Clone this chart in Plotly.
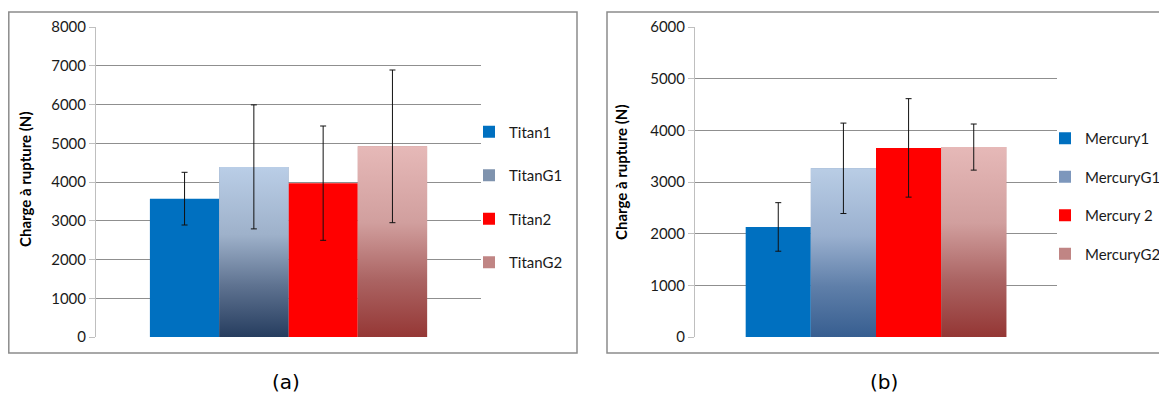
import plotly.graph_objects as go

# ---------------- data ----------------
titan_names = ["Titan1", "TitanG1", "Titan2", "TitanG2"]
titan_values = [3570, 4390, 3970, 4920]
titan_errors = [680, 1600, 1475, 1970]

mercury_names = ["Mercury1", "MercuryG1", "Mercury 2", "MercuryG2"]
mercury_values = [2130, 3265, 3660, 3676]
mercury_errors = [470, 875, 953, 446]

y_title = "Charge à rupture (N)"
captions = ["(a)", "(b)"]
titan_yrange = [0, 8000]
mercury_yrange = [0, 6000]

# ---------------- styles ----------------
# the page body has an 8px default margin, so the figure is drawn 8px smaller
# and all screen positions are shifted by that offset
OFF = 8
W, H = 1167 - OFF, 396 - OFF
FONT = "Lato"
BARGAP = 0.28
BW = (1 - BARGAP) / 4

# style per series: solid colour or gradient (bottom -> top)
titan_styles = [
    {"solid": "#0070C0"},
    {"grad": [[0, "#263D5F"], [0.3, "#5E7290"], [0.6, "#9EB1CA"], [1, "#BACEE7"]], "icon": "#7F93AE"},
    {"solid": "#FF0000"},
    {"grad": [[0, "#953735"], [0.3, "#AB6463"], [0.6, "#D19F9E"], [1, "#E6B9B8"]], "icon": "#C08584"},
]
mercury_styles = [
    {"solid": "#0070C0"},
    {"grad": [[0, "#375E90"], [0.3, "#5F7FA9"], [0.6, "#9AB0CF"], [1, "#B9CDE5"]], "icon": "#7D97BC"},
    {"solid": "#FF0000"},
    {"grad": [[0, "#943634"], [0.3, "#AB6463"], [0.6, "#D19F9E"], [1, "#E6B9B8"]], "icon": "#C08584"},
]


def px_x(p):
    return (p - OFF) / W


def px_y(p):
    return (H - (p - OFF)) / H


fig = go.Figure()


def add_panel(names, values, errors, styles, xa, ya, legend):
    for i, (n, v, e, st) in enumerate(zip(names, values, errors, styles)):
        pos = (i - 1.5) * BW
        err = dict(type="data", array=[e], color="#111111", thickness=1, width=3)
        if "solid" in st:
            fig.add_trace(go.Bar(
                x=[pos], y=[v], width=BW, name=n, xaxis=xa, yaxis=ya, legend=legend,
                legendgroup=n, marker=dict(color=st["solid"], line=dict(width=0)),
                error_y=err,
            ))
        else:
            fig.add_trace(go.Bar(
                x=[pos], y=[v], width=BW, name=n, xaxis=xa, yaxis=ya, legend=legend,
                legendgroup=n, marker=dict(color=st["icon"], line=dict(width=0)),
            ))
            x0, x1 = pos - BW / 2, pos + BW / 2
            fig.add_trace(go.Scatter(
                x=[x0, x1, x1, x0, x0], y=[0, 0, v, v, 0], mode="lines",
                fill="toself", line=dict(width=0), xaxis=xa, yaxis=ya,
                fillgradient=dict(type="vertical", colorscale=st["grad"]),
                showlegend=False, hoverinfo="skip", legendgroup=n,
            ))
            fig.add_trace(go.Scatter(
                x=[pos], y=[v], mode="markers", marker=dict(size=1, color="rgba(0,0,0,0)"),
                error_y=err, xaxis=xa, yaxis=ya, showlegend=False, legendgroup=n,
            ))


add_panel(titan_names, titan_values, titan_errors, titan_styles, "x", "y", "legend")
add_panel(mercury_names, mercury_values, mercury_errors, mercury_styles, "x2", "y2", "legend2")

axis_common_y = dict(
    showgrid=True, gridcolor="#8F8F8F", gridwidth=1, zeroline=False,
    showline=True, linecolor="#BFBFBF", linewidth=1, automargin=False,
    ticks="outside", ticklen=6, tickcolor="#BFBFBF", dtick=1000,
    tickfont=dict(family=FONT, size=15, color="#1A1A1A"),
)
axis_common_x = dict(
    range=[-0.5, 0.5], showgrid=False, zeroline=False, showticklabels=False,
    showline=False, ticks="", automargin=False,
)

yd = [px_y(337), px_y(27)]
fig.update_layout(
    width=W, height=H, margin=dict(l=0, r=0, t=0, b=0, pad=0, autoexpand=False),
    paper_bgcolor="white", plot_bgcolor="white",
    barmode="overlay", showlegend=True,
    xaxis=dict(domain=[px_x(96), px_x(481)], anchor="y", **axis_common_x),
    yaxis=dict(domain=yd, anchor="x", range=titan_yrange, **axis_common_y),
    xaxis2=dict(domain=[px_x(695), px_x(1057)], anchor="y2", **axis_common_x),
    yaxis2=dict(domain=yd, anchor="x2", range=mercury_yrange, **axis_common_y),
    legend=dict(x=px_x(469), xanchor="left", y=px_y(197), yanchor="middle",
                font=dict(family=FONT, size=15, color="#1A1A1A"),
                tracegroupgap=21, bgcolor="rgba(0,0,0,0)"),
    legend2=dict(x=px_x(1045), xanchor="left", y=px_y(196), yanchor="middle",
                 font=dict(family=FONT, size=15, color="#1A1A1A"),
                 tracegroupgap=16, bgcolor="rgba(0,0,0,0)"),
)

# chart frames
for x0, x1 in [(8.8, 577), (607, 1166)]:
    fig.add_shape(type="rect", xref="paper", yref="paper",
                  x0=px_x(x0), x1=px_x(x1), y0=px_y(353), y1=px_y(12),
                  line=dict(color="#8C8C8C", width=1.5), layer="below")

# y-axis titles
for xc, yc in [(25, 179), (621, 172)]:
    fig.add_annotation(text=y_title, xref="paper", yref="paper",
                       x=px_x(xc), y=px_y(yc), xanchor="center", yanchor="middle",
                       textangle=-90, showarrow=False,
                       font=dict(family=FONT, size=15, color="black", weight="bold"))

# captions
for txt, xc in zip(captions, [286, 884]):
    fig.add_annotation(text=txt, xref="paper", yref="paper",
                       x=px_x(xc), y=px_y(382), xanchor="center", yanchor="middle",
                       showarrow=False, font=dict(family="DejaVu Sans", size=20, color="black"))

fig.write_html("out.html")
